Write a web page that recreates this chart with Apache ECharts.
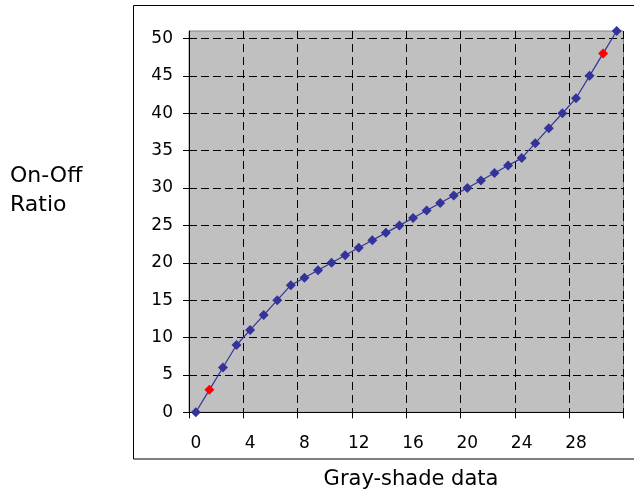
<!DOCTYPE html>
<html>
<head>
<meta charset="utf-8">
<script src="https://cdn.jsdelivr.net/npm/echarts@6/dist/echarts.min.js"></script>
<style>
html,body{margin:0;padding:0;background:#fff;}
#chart{width:634px;height:493px;}
</style>
</head>
<body>
<div id="chart"></div>
<script>
var categories = ['0','1','2','3','4','5','6','7','8','9','10','11','12','13','14','15','16','17','18','19','20','21','22','23','24','25','26','27','28','29','30','31'];
var ratioValues = [0,3,6,9,11,13,15,17,18,19,20,21,22,23,24,25,26,27,28,29,30,31,32,33,34,36,38,40,42,45,48,51];
var highlightIndices = [1,30];
var yTickValues = [0,5,10,15,20,25,30,35,40,45,50];
var yTitle = 'On-Off\nRatio';
var xTitle = 'Gray-shade data';

var FONT = 'DejaVu Sans';
var chart = echarts.init(document.getElementById('chart'));

var seriesData = ratioValues.map(function (v, i) {
  var d = {value: v};
  if (highlightIndices.indexOf(i) >= 0) {
    d.itemStyle = {color: '#FF0000'};
  }
  return d;
});

chart.setOption({
  animation: false,
  backgroundColor: '#ffffff',
  grid: {
    left: 189, right: 10.5, top: 31, bottom: 80.7,
    show: true, backgroundColor: '#C0C0C0', borderColor: '#808080', borderWidth: 1
  },
  xAxis: {
    type: 'category',
    data: categories,
    boundaryGap: true,
    axisLine: {show: true, lineStyle: {color: '#000', width: 1}},
    axisTick: {show: true, interval: 3, length: 6, lineStyle: {color: '#000'}},
    axisLabel: {interval: 3, color: '#000', fontFamily: FONT, fontSize: 17, margin: 23},
    splitLine: {show: true, interval: 3, lineStyle: {color: '#000', type: [8, 5], width: 1}}
  },
  yAxis: {
    type: 'value',
    min: 0, max: 51, interval: 5,
    axisLine: {show: true, lineStyle: {color: '#000', width: 1}},
    axisTick: {show: true, length: 6, customValues: yTickValues, lineStyle: {color: '#000'}},
    axisLabel: {color: '#000', fontFamily: FONT, fontSize: 17, margin: 16, customValues: yTickValues},
    splitLine: {show: true, lineStyle: {color: '#000', type: [8, 4], width: 1}}
  },
  graphic: [
    {type: 'rect', shape: {x: 133.5, y: 5.5, width: 620, height: 453.5},
     style: {fill: 'none', stroke: '#000', lineWidth: 1}, silent: true, z: -10},
    {type: 'text', x: 10, y: 191, style: {text: yTitle, fontFamily: FONT, fontSize: 22, lineHeight: 29,
     fill: '#000', textAlign: 'left', textVerticalAlign: 'middle'}},
    {type: 'text', x: 411, y: 480, style: {text: xTitle, fontFamily: FONT, fontSize: 21,
     fill: '#000', textAlign: 'center', textVerticalAlign: 'middle'}}
  ],
  series: [{
    type: 'line',
    data: seriesData,
    symbol: 'diamond',
    symbolSize: 10,
    showAllSymbol: true,
    itemStyle: {color: '#333399'},
    lineStyle: {color: '#333399', width: 1.2},
    clip: false
  }]
});
</script>
</body>
</html>
